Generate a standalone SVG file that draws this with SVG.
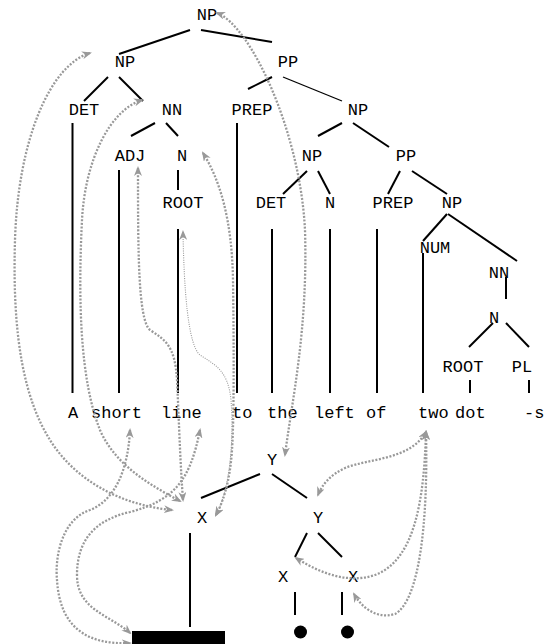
<svg xmlns="http://www.w3.org/2000/svg" width="545" height="644" viewBox="0 0 545 644">
  <style>
    text { font-family: "Liberation Mono", "Courier New", monospace; font-size: 17px; fill: #000; }
    .lab { text-anchor: middle; }
    .edge { stroke: #000; stroke-width: 2; fill: none; }
    .thin { stroke-width: 1.3; }
    .link { stroke: #999; stroke-width: 2.3; stroke-dasharray: 2 1.6; fill: none; marker-start: url(#head); marker-end: url(#head); }
    .link.fine { stroke-width: 1.1; stroke-dasharray: 1 1.3; }
  </style>
  <defs>
    <marker id="head" viewBox="0 0 10 8" refX="8" refY="4" markerWidth="10" markerHeight="8" markerUnits="userSpaceOnUse" orient="auto-start-reverse">
      <path d="M0,0 L10,4 L0,8 L3,4 z" fill="#999"/>
    </marker>
  </defs>

  <!-- syntax tree nodes -->
  <g id="np-root"><text class="lab" x="207" y="20">NP</text></g>
  <g id="np-subject"><text class="lab" x="125" y="67">NP</text></g>
  <g id="pp-main"><text class="lab" x="288" y="67">PP</text></g>
  <g id="det-a"><text class="lab" x="84" y="115">DET</text></g>
  <g id="nn-short-line"><text class="lab" x="172" y="115">NN</text></g>
  <g id="prep-to"><text class="lab" x="252" y="115">PREP</text></g>
  <g id="np-object"><text class="lab" x="358" y="115">NP</text></g>
  <g id="adj-short"><text class="lab" x="130" y="161">ADJ</text></g>
  <g id="n-line"><text class="lab" x="182" y="161">N</text></g>
  <g id="np-left"><text class="lab" x="312" y="161">NP</text></g>
  <g id="pp-of"><text class="lab" x="406" y="161">PP</text></g>
  <g id="root-line"><text class="lab" x="183" y="208">ROOT</text></g>
  <g id="det-the"><text class="lab" x="271" y="208">DET</text></g>
  <g id="n-left"><text class="lab" x="330" y="208">N</text></g>
  <g id="prep-of"><text class="lab" x="393" y="208">PREP</text></g>
  <g id="np-dots"><text class="lab" x="452" y="208">NP</text></g>
  <g id="num-two"><text class="lab" x="435" y="253">NUM</text></g>
  <g id="nn-dots"><text class="lab" x="499" y="278">NN</text></g>
  <g id="n-dots"><text class="lab" x="494" y="323">N</text></g>
  <g id="root-dot"><text class="lab" x="463" y="372">ROOT</text></g>
  <g id="pl-s"><text class="lab" x="522" y="372">PL</text></g>

  <!-- words -->
  <g id="words">
    <text x="68" y="418">A</text>
    <text x="91" y="418">short</text>
    <text x="161" y="418">line</text>
    <text x="232" y="418">to</text>
    <text x="267" y="418">the</text>
    <text x="314" y="418">left</text>
    <text x="366" y="418">of</text>
    <text x="418" y="418">two</text>
    <text x="455" y="418">dot</text>
    <text x="524" y="418">-s</text>
  </g>

  <!-- picture structure nodes -->
  <g id="y-top"><text class="lab" x="272" y="465">Y</text></g>
  <g id="x-line"><text class="lab" x="202" y="523">X</text></g>
  <g id="y-dots"><text class="lab" x="318" y="523">Y</text></g>
  <g id="x-dot1"><text class="lab" x="283" y="582">X</text></g>
  <g id="x-dot2"><text class="lab" x="353" y="582">X</text></g>
  <g id="bar"><rect x="132" y="631" width="93" height="14" fill="#000"/></g>
  <g id="dot1"><circle cx="300.5" cy="632" r="6.5" fill="#000"/></g>
  <g id="dot2"><circle cx="347.5" cy="632" r="6.5" fill="#000"/></g>

  <g id="connectors">
    <!-- tree edges -->
    <line class="edge" x1="190" y1="30" x2="119" y2="54"/>
    <line class="edge" x1="201" y1="30" x2="272" y2="42"/>
    <line class="edge" x1="108" y1="77" x2="84" y2="101"/>
    <line class="edge" x1="119" y1="77" x2="143" y2="101"/>
    <line class="edge" x1="272" y1="77" x2="248" y2="89"/>
    <line class="edge thin" x1="283" y1="77" x2="342" y2="101"/>
    <line class="edge" x1="155" y1="123" x2="131" y2="136"/>
    <line class="edge" x1="166" y1="123" x2="178" y2="136"/>
    <line class="edge" x1="342" y1="123" x2="318" y2="136"/>
    <line class="edge" x1="353" y1="123" x2="389" y2="147"/>
    <line class="edge" x1="307" y1="171" x2="283" y2="194"/>
    <line class="edge" x1="318" y1="171" x2="330" y2="194"/>
    <line class="edge" x1="400" y1="171" x2="388" y2="194"/>
    <line class="edge" x1="412" y1="171" x2="447" y2="194"/>
    <line class="edge" x1="447" y1="214" x2="423" y2="241"/>
    <line class="edge" x1="448" y1="214" x2="517" y2="261"/>
    <line class="edge" x1="178" y1="170" x2="178" y2="190"/>
    <line class="edge" x1="506" y1="277" x2="506" y2="299"/>
    <line class="edge" x1="493" y1="323" x2="469" y2="347"/>
    <line class="edge" x1="506" y1="323" x2="529" y2="347"/>
    <!-- leaf stems -->
    <line class="edge" x1="72.5" y1="123" x2="72.5" y2="393"/>
    <line class="edge" x1="119" y1="170" x2="119" y2="393"/>
    <line class="edge" x1="178" y1="229" x2="178" y2="393"/>
    <line class="edge" x1="237" y1="123" x2="237" y2="393"/>
    <line class="edge" x1="272" y1="229" x2="272" y2="393"/>
    <line class="edge" x1="330" y1="229" x2="330" y2="393"/>
    <line class="edge" x1="377" y1="229" x2="377" y2="393"/>
    <line class="edge" x1="423" y1="253" x2="423" y2="393"/>
    <line class="edge" x1="470" y1="380" x2="470" y2="393"/>
    <line class="edge" x1="529" y1="380" x2="529" y2="393"/>
    <!-- picture tree edges -->
    <line class="edge" x1="260" y1="474" x2="201" y2="498"/>
    <line class="edge" x1="272" y1="474" x2="307" y2="498"/>
    <line class="edge" x1="307" y1="533" x2="295" y2="557"/>
    <line class="edge" x1="318" y1="533" x2="342" y2="557"/>
    <line class="edge" x1="190" y1="533" x2="190" y2="627"/>
    <line class="edge" x1="295" y1="592" x2="295" y2="615"/>
    <line class="edge" x1="342" y1="592" x2="342" y2="615"/>

    <!-- correspondence links -->
    <path class="link" d="M90,53 C50,65 18,140 15,240 C12,340 25,400 50,440 C75,480 120,505 172,510"/>
    <path class="link" d="M142,100 C110,110 85,160 82,220 C78,300 80,380 100,430 C115,465 150,485 180,501"/>
    <path class="link" d="M138,168 C138,250 138,320 150,330 C165,340 175,345 177,380 C179,420 180,460 183,500"/>
    <path class="link" d="M203,153 C220,180 232,220 233,280 C234,350 234,420 232,450 C230,480 224,500 216,515"/>
    <path class="link fine" d="M183,232 C184,290 188,345 200,355 C215,365 228,370 231,400 C234,440 230,490 216,515"/>
    <path class="link" d="M217,13 C250,25 300,130 305,230 C308,330 292,400 285,455"/>
    <path class="link" d="M130,430 C128,470 115,500 90,510 C60,520 55,560 57,580 C60,630 90,645 130,643"/>
    <path class="link" d="M200,430 C190,480 175,500 130,512 C95,520 77,540 77,575 C77,610 110,615 130,633"/>
    <path class="link" d="M426,432 C410,460 370,458 345,468 C330,475 322,485 318,495"/>
    <path class="link" d="M426,432 C424,500 415,560 375,575 C345,585 315,570 296,558"/>
    <path class="link" d="M426,432 C428,520 420,600 395,614 C375,620 360,605 354,594"/>
  </g>
</svg>
